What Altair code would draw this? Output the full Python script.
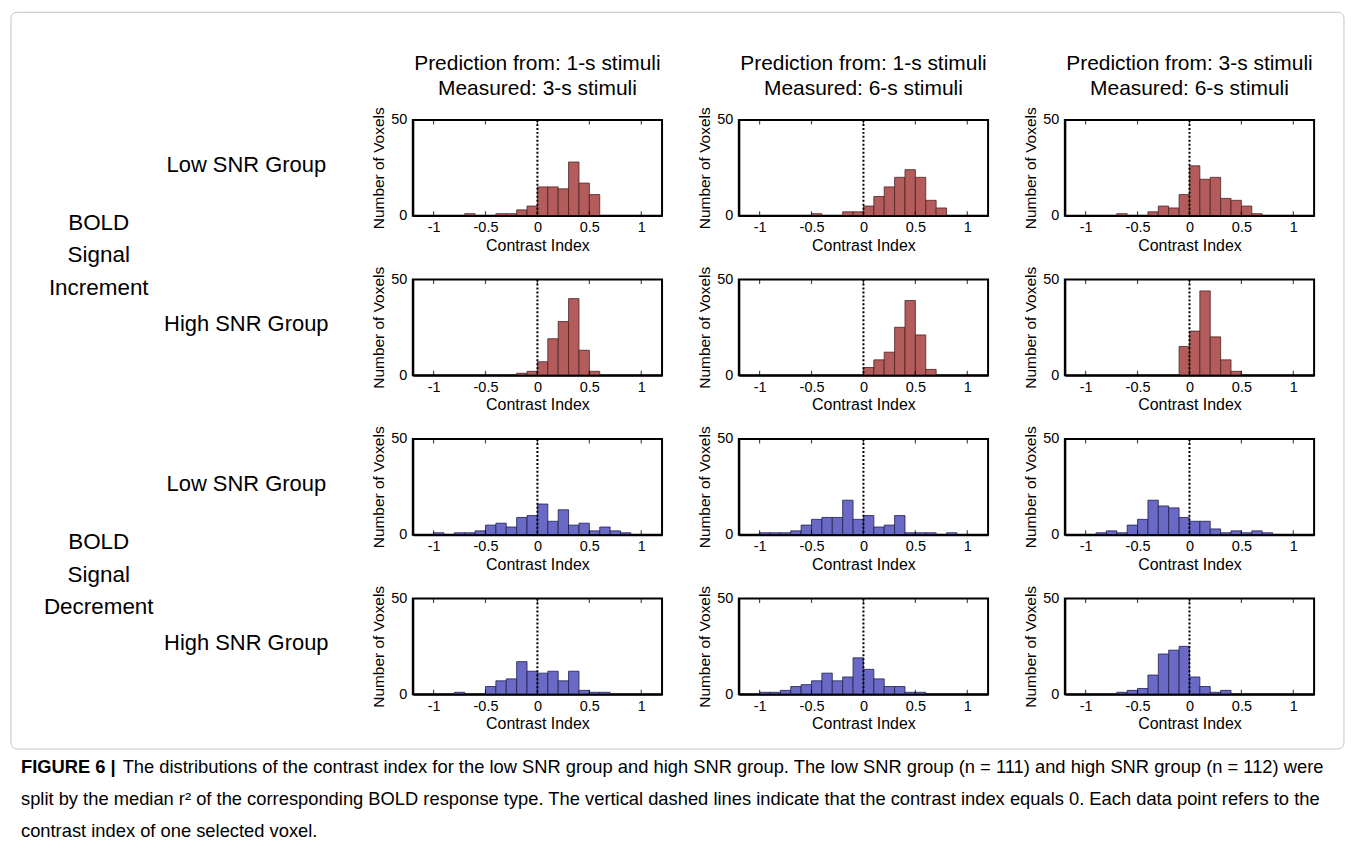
import altair as alt
import pandas as pd

# ---------------- data ----------------
BIN_STARTS = [-1.0, -0.9, -0.8, -0.7, -0.6, -0.5, -0.4, -0.3, -0.2, -0.1,
              0.0, 0.1, 0.2, 0.3, 0.4, 0.5, 0.6, 0.7, 0.8, 0.9]
BIN_WIDTH = 0.1

# BOLD signal increment
INC_LOW_1_3 = [0, 0, 0, 1, 0, 0, 1, 1, 3, 5, 15, 15, 14, 28, 17, 11, 0, 0, 0, 0]
INC_LOW_1_6 = [0, 0, 0, 0, 0, 1, 0, 0, 2, 2, 5, 10, 15, 20, 24, 20, 8, 4, 0, 0]
INC_LOW_3_6 = [0, 0, 0, 1, 0, 0, 2, 5, 4, 11, 26, 19, 20, 9, 8, 5, 1, 0, 0, 0]
INC_HIGH_1_3 = [0, 0, 0, 0, 0, 0, 0, 0, 1, 2, 7, 19, 28, 40, 13, 2, 0, 0, 0, 0]
INC_HIGH_1_6 = [0, 0, 0, 0, 0, 0, 0, 0, 0, 0, 4, 8, 12, 25, 39, 21, 3, 0, 0, 0]
INC_HIGH_3_6 = [0, 0, 0, 0, 0, 0, 0, 0, 0, 15, 23, 44, 20, 8, 2, 0, 0, 0, 0, 0]
# BOLD signal decrement
DEC_LOW_1_3 = [1, 0, 1, 1, 2, 5, 6, 4, 9, 10, 16, 7, 13, 5, 6, 2, 4, 2, 1, 0]
DEC_LOW_1_6 = [1, 1, 1, 2, 5, 8, 9, 9, 18, 8, 10, 4, 5, 10, 1, 1, 1, 0, 1, 0]
DEC_LOW_3_6 = [0, 1, 2, 1, 5, 8, 18, 15, 14, 9, 7, 7, 3, 1, 2, 1, 2, 1, 0, 0]
DEC_HIGH_1_3 = [0, 0, 1, 0, 0, 4, 7, 8, 17, 12, 11, 12, 7, 12, 2, 1, 1, 0, 0, 0]
DEC_HIGH_1_6 = [1, 1, 2, 4, 5, 7, 11, 7, 9, 19, 13, 8, 4, 4, 1, 1, 0, 0, 0, 0]
DEC_HIGH_3_6 = [0, 0, 0, 1, 2, 3, 10, 21, 23, 25, 9, 4, 1, 2, 0, 0, 0, 0, 0, 0]

TITLE_PRED = ["Prediction from: 1-s stimuli", "Prediction from: 1-s stimuli",
              "Prediction from: 3-s stimuli"]
TITLE_MEAS = ["Measured: 3-s stimuli", "Measured: 6-s stimuli", "Measured: 6-s stimuli"]
ROW_LABELS = ["Low SNR Group", "High SNR Group", "Low SNR Group", "High SNR Group"]
GROUP_LABELS = [["BOLD", "Signal", "Increment"], ["BOLD", "Signal", "Decrement"]]
X_TICKS = [-1, -0.5, 0, 0.5, 1]
Y_TICKS = [0, 50]
ZERO_LINE = [0]
X_DOMAIN = [-1.2, 1.2]
Y_DOMAIN = [0, 50]
X_TITLE = "Contrast Index"
Y_TITLE = "Number of Voxels"

CAPTION_HEAD = "FIGURE 6 |"
CAPTION_LINES = [
    "The distributions of the contrast index for the low SNR group and high SNR group. The low SNR group (n = 111) and high SNR group (n = 112) were",
    "split by the median r\u00b2 of the corresponding BOLD response type. The vertical dashed lines indicate that the contrast index equals 0. Each data point refers to the",
    "contrast index of one selected voxel.",
]

# ---------------- style ----------------
FONT = "Liberation Sans"
RED, RED_EDGE = "#b45c5c", "#4a2323"
BLUE, BLUE_EDGE = "#6a6ac6", "#20204f"
PW, PH = 250, 96
LW = 325
ONE = pd.DataFrame({"k": [0]})


def panel(counts, fill, edge, title=None):
    df = pd.DataFrame({"lo": BIN_STARTS, "count": counts})
    df = df[df["count"] > 0]
    xs = alt.Scale(domain=X_DOMAIN, nice=False, zero=False)
    ys = alt.Scale(domain=Y_DOMAIN, nice=False)
    bars = alt.Chart(df).transform_calculate(
        hi=f"datum.lo + {BIN_WIDTH}"
    ).mark_rect(fill=fill, stroke=edge, strokeWidth=0.8).encode(
        x=alt.X("lo:Q", scale=xs, axis=alt.Axis(
            values=X_TICKS, title=X_TITLE, labelExpr="toString(datum.value)",
            ticks=False, grid=False, domain=True, domainColor="black", domainWidth=2,
            labelFontSize=14.5, labelPadding=5, titleFontSize=16, titlePadding=3,
            titleFontWeight="normal", labelColor="black", titleColor="black",
            labelFlush=False, zindex=1)),
        x2="hi:Q",
        y=alt.Y("count:Q", scale=ys, axis=alt.Axis(
            values=Y_TICKS, title=Y_TITLE, ticks=False, grid=False, domain=True,
            domainColor="black", domainWidth=2, labelFontSize=14.5, labelPadding=6,
            titleFontSize=15.5, titlePadding=4, titleFontWeight="normal",
            labelColor="black", titleColor="black", labelFlush=False, zindex=1)),
        y2=alt.datum(0),
    )
    zero = alt.Chart(pd.DataFrame({"lo": ZERO_LINE})).mark_rule(
        color="black", strokeDash=[2, 2], strokeWidth=2
    ).encode(x=alt.X("lo:Q", scale=xs))
    tdf = pd.DataFrame({"lo": X_TICKS})
    tick_top = alt.Chart(tdf).mark_tick(
        color="black", size=9, thickness=1.2, orient="vertical", clip=True
    ).encode(x=alt.X("lo:Q", scale=xs), y=alt.value(0))
    tick_bot = alt.Chart(tdf).mark_tick(
        color="black", size=9, thickness=1.2, orient="vertical", clip=True
    ).encode(x=alt.X("lo:Q", scale=xs), y=alt.value(PH))
    props = dict(width=PW, height=PH)
    if title is not None:
        props["title"] = alt.TitleParams(
            text=title, fontSize=21, fontWeight="normal", anchor="middle",
            color="black", offset=8, lineHeight=25, font=FONT)
    return alt.layer(bars, zero, tick_top, tick_bot).properties(**props)


def text_layer(text, x, y, size, align="center", weight="normal", line_height=None):
    kw = dict(text=text, fontSize=size, align=align, baseline="middle",
              fontWeight=weight, color="black", font=FONT)
    if line_height is not None:
        kw["lineHeight"] = line_height
    return alt.Chart(ONE).mark_text(**kw).encode(x=alt.value(x), y=alt.value(y))


def label_chart(r):
    layers = []
    if r == 0:
        layers.append(alt.Chart(ONE).mark_rect(
            fillOpacity=0, stroke="#c4c4c4", strokeWidth=1, cornerRadius=6
        ).encode(x=alt.value(-1), x2=alt.value(1336), y=alt.value(-108), y2=alt.value(631)))
    layers.append(text_layer(ROW_LABELS[r], 235, 45, 22))
    if r in (0, 2):
        layers.append(text_layer(GROUP_LABELS[r // 2], 87, 103, 22.5, line_height=33))
    if r == 3:
        layers.append(text_layer(CAPTION_HEAD, 9, 169, 18.4, align="left", weight="bold"))
        layers.append(text_layer(CAPTION_LINES[0], 111, 169, 18.4, align="left"))
        layers.append(text_layer(CAPTION_LINES[1], 9, 201, 18.4, align="left"))
        layers.append(text_layer(CAPTION_LINES[2], 9, 233, 18.4, align="left"))
    return alt.layer(*layers).properties(
        width=LW, height=PH, view=alt.ViewBackground(stroke="transparent"))


rows = [
    (INC_LOW_1_3, INC_LOW_1_6, INC_LOW_3_6, RED, RED_EDGE),
    (INC_HIGH_1_3, INC_HIGH_1_6, INC_HIGH_3_6, RED, RED_EDGE),
    (DEC_LOW_1_3, DEC_LOW_1_6, DEC_LOW_3_6, BLUE, BLUE_EDGE),
    (DEC_HIGH_1_3, DEC_HIGH_1_6, DEC_HIGH_3_6, BLUE, BLUE_EDGE),
]

cells = []
for r, (a, b, c, fill, edge) in enumerate(rows):
    cells.append(label_chart(r))
    for j, counts in enumerate((a, b, c)):
        t = [TITLE_PRED[j], TITLE_MEAS[j]] if r == 0 else None
        cells.append(panel(counts, fill, edge, t))

chart = alt.concat(
    *cells, columns=4, spacing={"row": 64, "column": 77}, bounds="flush"
).properties(
    padding={"left": 1, "top": 1, "right": 1, "bottom": 1}
).configure(font=FONT).configure_view(stroke="black", strokeWidth=2)

chart.save("out.html", embed_options={"renderer": "svg", "actions": False})
